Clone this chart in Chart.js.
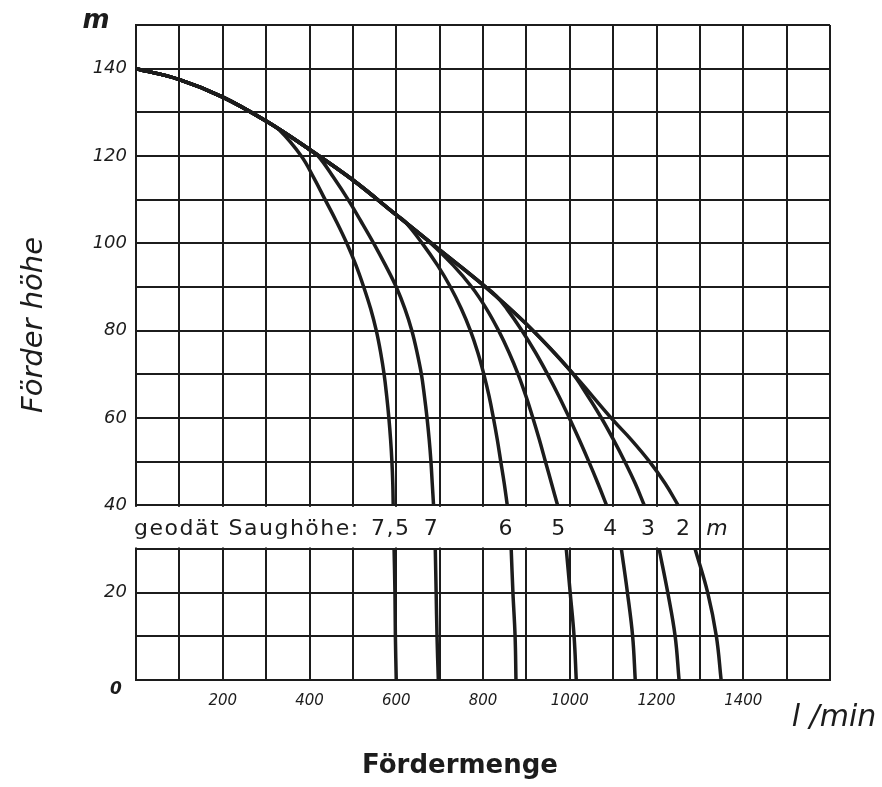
<!DOCTYPE html>
<html lang="de">
<head>
<meta charset="UTF-8">
<title>Förderhöhe / Fördermenge</title>
<script src="https://cdn.jsdelivr.net/npm/chart.js@4"></script>
<style>
  html, body { margin: 0; padding: 0; background: #fff; }
  #wrap { width: 882px; height: 787px; }
</style>
</head>
<body>
<div id="wrap"><canvas id="pump" width="882" height="787"></canvas></div>
<script>
// Saughöhen (m), eine Kennlinie je Wert
const suctionHeads = ['7,5', '7', '6', '5', '4', '3', '2'];

// gemeinsamer oberer Ast [l/min, m]
const envelope = [[0,140],[100,137.5],[200,133.5],[300,128],[400,121.5],[500,114.5],[600,106.5],[700,98.5],[800,90.5],[900,81.5],[1000,71],[1100,59.5]];

// abzweigende Äste bis 40 m herunter
const branch75 = [[330,126],[381,120],[410,115],[436,110],[462,105],[486,100],[507,95],[525,90],[541,85],[554,80],[564,75],[572,70],[578,65],[583,60],[587,55],[590,50],[592,45],[593,40]];
const branch7  = [[420,120],[456,115],[489,110],[519,105],[548,100],[575,95],[600,90],[620,85],[636,80],[648,75],[658,70],[665,65],[671,60],[676,55],[680,50],[683,45],[686,40]];
const branch6  = [[620,105],[660,100],[695,95],[725,90],[750,85],[771,80],[788,75],[802,70],[814,65],[824,60],[833,55],[841,50],[849,45],[856,40]];
const branch5  = [[680,100],[731,95],[774,90],[808,85],[836,80],[860,75],[881,70],[899,65],[915,60],[930,55],[944,50],[958,45],[972,40]];
const branch4  = [[830,88],[855,85],[890,80],[921,75],[949,70],[975,65],[999,60],[1022,55],[1044,50],[1065,45],[1085,40]];
const branch3  = [[1000,71],[1042,65],[1073,60],[1101,55],[1127,50],[1151,45],[1172,40]];
const branch2  = [[1142,55],[1184,50],[1220,45],[1250,40]];

// unterer Teil unter dem Beschriftungsstreifen
const lowerHeads = [30, 20, 10, 0];
const lower75 = [595, 597, 598, 600];
const lower7  = [690, 692, 694, 697];
const lower6  = [865, 869, 874, 876];
const lower5  = [992, 1001, 1010, 1015];
const lower4  = [1119, 1133, 1145, 1151];
const lower3  = [1206, 1226, 1243, 1252];
const lower2  = [1289, 1318, 1338, 1349];

const branches = [branch75, branch7, branch6, branch5, branch4, branch3, branch2];
const lowers = [lower75, lower7, lower6, lower5, lower4, lower3, lower2];

const INK = '#1c1c1c';
const FONT = 'DejaVu Sans';

function upperPoints(branch) {
  const start = branch[0][0];
  return envelope.filter(p => p[0] < start).concat(branch).map(p => ({ x: p[0], y: p[1] }));
}
function lowerPoints(qs) {
  return qs.map((q, i) => ({ x: q, y: lowerHeads[i] }));
}

const datasets = [];
branches.forEach((b, i) => {
  const style = { borderColor: INK, borderWidth: 3.5, pointRadius: 0, showLine: true, fill: false, tension: 0.4 };
  datasets.push(Object.assign({ label: suctionHeads[i] + ' m', data: upperPoints(b) }, style));
  datasets.push(Object.assign({ label: suctionHeads[i] + ' m unten', data: lowerPoints(lowers[i]) }, style));
});

// Beschriftungsstreifen 30..40 m, Achsentexte
const annotate = {
  id: 'annotate',
  beforeDatasetsDraw(chart) {
    const { ctx, chartArea: a, scales: { x, y } } = chart;
    const y40 = y.getPixelForValue(40), y30 = y.getPixelForValue(30);
    const xr = x.getPixelForValue(1300);
    ctx.save();
    ctx.fillStyle = '#fff';
    ctx.fillRect(a.left - 3, y40 + 1.5, xr - 1.5 - (a.left - 3), y30 - y40 - 3);

    const base = y.getPixelForValue(35) + 8;
    ctx.fillStyle = INK;
    ctx.font = '22px "' + FONT + '"';
    ctx.letterSpacing = '1.5px';
    ctx.textAlign = 'left';
    ctx.fillText('geodät Saughöhe:', a.left - 2, base);
    ctx.textAlign = 'center';
    let last = 0;
    branches.forEach((b, i) => {
      const q = (b[b.length - 1][0] + lowers[i][0]) / 2;
      last = x.getPixelForValue(q) - 3;
      ctx.fillText(suctionHeads[i], last, base);
    });
    ctx.font = 'italic 22px "' + FONT + '"';
    ctx.fillText('m', last + 34, base);
    ctx.restore();
  },
  afterDraw(chart) {
    const { ctx, chartArea: a, scales: { x, y } } = chart;
    ctx.save();
    ctx.fillStyle = INK;
    ctx.textAlign = 'center';
    ctx.textBaseline = 'middle';
    // Einheit oben an der Hochachse
    ctx.font = 'italic bold 26px "' + FONT + '"';
    ctx.fillText('m', a.left - 40, y.getPixelForValue(150) - 4);
    // Nullpunkt
    ctx.font = 'italic bold 17px "' + FONT + '"';
    ctx.fillText('0', a.left - 20, y.getPixelForValue(0) + 10);
    // Einheit rechts
    ctx.font = 'italic 30px "' + FONT + '"';
    ctx.fillText('l /min', x.getPixelForValue(1600) + 4, a.bottom + 38);
    // Achsentitel
    ctx.font = 'bold 26px "' + FONT + '"';
    ctx.fillText('Fördermenge', 460, 766);
    ctx.translate(34, 325);
    ctx.rotate(-Math.PI / 2);
    ctx.font = 'italic 29px "' + FONT + '"';
    ctx.fillText('Förder höhe', 0, 0);
    ctx.restore();
  }
};

new Chart(document.getElementById('pump'), {
  type: 'scatter',
  data: { datasets },
  plugins: [annotate],
  options: {
    responsive: false,
    animation: false,
    layout: { padding: { left: 0, right: 52, top: 25, bottom: 0 } },
    plugins: { legend: { display: false }, tooltip: { enabled: false } },
    scales: {
      x: {
        type: 'linear', min: 0, max: 1600,
        afterFit: s => { s.height = 107; },
        grid: { color: INK, lineWidth: 2, drawTicks: false },
        border: { color: INK, width: 2 },
        ticks: {
          stepSize: 100, autoSkip: false, maxRotation: 0, padding: 12, color: INK,
          font: { family: FONT, style: 'italic', size: 15 },
          callback: v => (v % 200 === 0 && v > 0 && v < 1600) ? String(v) : ''
        }
      },
      y: {
        type: 'linear', min: 0, max: 150,
        afterFit: s => { s.width = 136; },
        grid: { color: INK, lineWidth: 2, drawTicks: false },
        border: { color: INK, width: 2 },
        ticks: {
          stepSize: 10, autoSkip: false, padding: 9, color: INK,
          font: { family: FONT, style: 'italic', size: 18 },
          callback: v => (v % 20 === 0 && v > 0 && v < 150) ? String(v) : ''
        }
      }
    }
  }
});
</script>
</body>
</html>
